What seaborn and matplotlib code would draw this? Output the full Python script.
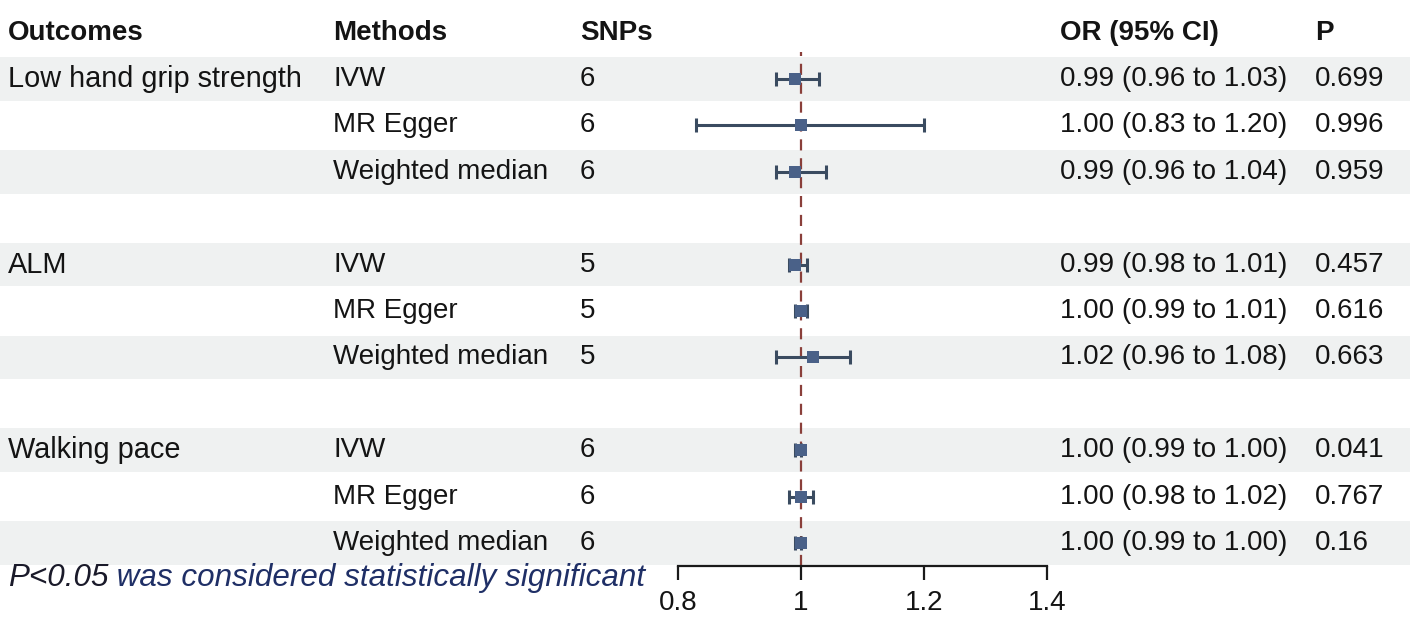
import numpy as np
import pandas as pd
import matplotlib
matplotlib.use("Agg")
import matplotlib.pyplot as plt
import seaborn as sns

# ---------------- data ----------------
outcomes = ["Low hand grip strength", "ALM", "Walking pace"]
methods = ["IVW", "MR Egger", "Weighted median"]
snps = [6, 6, 6, 5, 5, 5, 6, 6, 6]
or_vals = [0.99, 1.00, 0.99, 0.99, 1.00, 1.02, 1.00, 1.00, 1.00]
ci_low = [0.96, 0.83, 0.96, 0.98, 0.99, 0.96, 0.99, 0.98, 0.99]
ci_high = [1.03, 1.20, 1.04, 1.01, 1.01, 1.08, 1.00, 1.02, 1.00]
p_vals = ["0.699", "0.996", "0.959", "0.457", "0.616", "0.663", "0.041", "0.767", "0.16"]
headers = ["Outcomes", "Methods", "SNPs", "OR (95% CI)", "P"]
x_ticks = [0.8, 1.0, 1.2, 1.4]
x_tick_labels = ["0.8", "1", "1.2", "1.4"]
footnote_a = "P<0.05"
footnote_b = " was considered statistically significant"

# ---------------- table frame ----------------
rows = []
for g, oc in enumerate(outcomes):
    for m, me in enumerate(methods):
        i = g * 3 + m
        rows.append(dict(outcome=oc if m == 0 else "", method=me, snp=snps[i],
                         OR=or_vals[i], lo=ci_low[i], hi=ci_high[i], p=p_vals[i],
                         row=1 + g * 4 + m))
df = pd.DataFrame(rows)

sns.set_theme(style="white")
plt.rcParams["font.family"] = ["Liberation Sans", "DejaVu Sans"]

W, H = 1417, 621
fig = plt.figure(figsize=(W / 100, H / 100), dpi=100)

# row r centre at pixel 32.6 + 46.4*r
y0, pitch = 32.6, 46.4
def pix2row(p):
    return (p - y0) / pitch

ax_bg = fig.add_axes([0, 0, 1, 1])
ax_bg.set_xlim(0, W)
ax_bg.set_ylim(pix2row(H), pix2row(0))
ax_bg.axis("off")

band_color = "#eff1f1"
for r in [1, 3, 5, 7, 9, 11]:
    ax_bg.axhspan(r - 0.47, r + 0.47, xmin=0, xmax=1410 / W, color=band_color, lw=0, zorder=0)

fs = 20
fs_left = 20.8
txt_color = "#141414"
col_x = [8, 333, 580, 1060, 1315]
for x, h in zip(col_x, headers):
    ax_bg.text(x, 0, h, fontsize=fs, fontweight="bold", va="center", ha="left", color=txt_color)

for _, r in df.iterrows():
    ax_bg.text(col_x[0], r.row, r.outcome, fontsize=fs_left, va="center", ha="left", color=txt_color)
    ax_bg.text(col_x[1], r.row, r.method, fontsize=fs, va="center", ha="left", color=txt_color)
    ax_bg.text(col_x[2], r.row, str(r.snp), fontsize=fs, va="center", ha="left", color=txt_color)
    ax_bg.text(col_x[3], r.row, f"{r.OR:.2f} ({r.lo:.2f} to {r.hi:.2f})", fontsize=fs,
               va="center", ha="left", color=txt_color)
    ax_bg.text(col_x[4], r.row, r.p, fontsize=fs, va="center", ha="left", color=txt_color)

t1 = ax_bg.text(8, pix2row(578), footnote_a, fontsize=22.6, style="italic", va="center",
                ha="left", color="#1a1a2a")
ax_bg.annotate(footnote_b, xy=(1, 0), xycoords=t1, fontsize=22.6, style="italic",
               va="bottom", ha="left", color="#1f2f66")

# ---------------- forest axes ----------------
top_px, bot_px = 52, 566
ax_f = fig.add_axes([678 / W, 1 - bot_px / H, 369 / W, (bot_px - top_px) / H])
ax_f.set_facecolor("none")
ax_f.set_xlim(0.8, 1.4)
ax_f.set_ylim(pix2row(bot_px), pix2row(top_px))

ax_f.axvline(1.0, color="#8a3f3a", lw=1.6, ls=(0, (5, 3.5)), zorder=1)

ax_f.errorbar(df["OR"], df["row"],
              xerr=[df["OR"] - df["lo"], df["hi"] - df["OR"]],
              fmt="none", ecolor="#3a4b60", elinewidth=2.2, capsize=5, capthick=2.2, zorder=2)
sns.scatterplot(data=df, x="OR", y="row", marker="s", s=70, color="#4a6188",
                edgecolor="#4a6188", linewidth=0, ax=ax_f, zorder=3, legend=False)

ax_f.set_xticks(x_ticks)
ax_f.set_xticklabels(x_tick_labels, fontsize=fs, color=txt_color)
ax_f.set_yticks([])
ax_f.set_xlabel("")
ax_f.set_ylabel("")
for s in ["top", "left", "right"]:
    ax_f.spines[s].set_visible(False)
ax_f.spines["bottom"].set_color("#1a1a1a")
ax_f.spines["bottom"].set_linewidth(1.6)
ax_f.tick_params(axis="x", direction="out", length=10, width=1.6, color="#1a1a1a", pad=7,
                 bottom=True)

fig.savefig("out.png", dpi=100, facecolor="white")
